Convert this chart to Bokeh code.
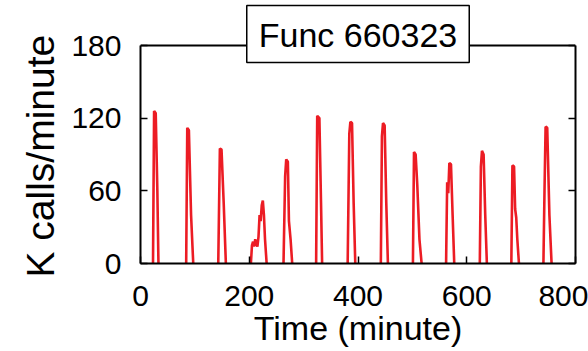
from bokeh.plotting import figure
from bokeh.models import LinearAxis, Label, FixedTicker, Range1d, Span, Title
from bokeh.embed import file_html
from bokeh.resources import INLINE
import numpy as np

# ---- data (minute, K calls/minute); NaN separates the bursts ----
nan = float("nan")
minutes = [
    23, 25, 28, 31, 33, nan,
    84, 86, 89, 93, 97, nan,
    143, 146, 149, 153, 157, nan,
    203, 205, 207, 209, 211, 213, 215, 217, 219, 221, 223, 225, 227, 229, 232, nan,
    263, 266, 268, 271, 273, 276, 279, nan,
    323, 325, 329, 332, 334, nan,
    381, 384, 386, 389, 392, 395, nan,
    442, 444, 446, 449, 452, 455, nan,
    501, 503, 506, 509, 513, 517, nan,
    562, 564, 566, 568, 571, 574, 577, nan,
    624, 626, 628, 631, 634, 637, nan,
    682, 684, 687, 689, 691, 693, 696, nan,
    741, 743, 745, 748, 752, 756,
]
calls = [
    0, 126, 124, 60, 0, nan,
    0, 112, 110, 40, 0, nan,
    0, 95, 94, 50, 0, nan,
    0, 15, 18, 14, 20, 17, 14, 22, 40, 35, 48, 52, 40, 20, 0, nan,
    0, 72, 86, 84, 35, 20, 0, nan,
    0, 122, 120, 50, 0, nan,
    0, 107, 117, 116, 50, 0, nan,
    0, 105, 116, 114, 50, 0, nan,
    0, 92, 90, 65, 20, 0, nan,
    0, 67, 58, 83, 82, 40, 0, nan,
    0, 80, 93, 90, 40, 0, nan,
    0, 81, 80, 45, 38, 20, 0, nan,
    0, 60, 113, 112, 40, 0,
]
x_ticks = [0, 200, 400, 600, 800]
y_ticks = [0, 60, 120, 180]
y_max = 180
title_text = "Func 660323"

FONT = "Liberation Sans"

# frame extends above y_max so the title box (which straddles the top edge) is not clipped
p = figure(
    frame_width=435, frame_height=260,
    min_border_left=140, min_border_right=13, min_border_top=3, min_border_bottom=0,
    x_range=Range1d(0, 800), y_range=Range1d(0, 214.7),
    output_backend="svg", toolbar_location=None,
)
p.background_fill_color = "white"
p.border_fill_color = "white"
p.outline_line_color = None
p.grid.visible = False

p.line(np.array(minutes), np.array(calls), line_color="#ec1c24", line_width=2.6)

for ax in (p.xaxis[0], p.yaxis[0]):
    ax.axis_line_color = "black"
    ax.axis_line_width = 2
    ax.major_tick_in = 7
    ax.major_tick_out = 0
    ax.major_tick_line_width = 1.5
    ax.minor_tick_line_color = None
    ax.major_label_text_font = FONT
    ax.major_label_text_font_size = "30px"
    ax.major_label_text_color = "black"
    ax.axis_label_text_font = FONT
    ax.axis_label_text_font_style = "normal"
    ax.axis_label_text_color = "black"

p.xaxis[0].ticker = FixedTicker(ticks=x_ticks)
p.yaxis[0].ticker = FixedTicker(ticks=y_ticks)
p.yaxis[0].bounds = (0, y_max)
p.xaxis[0].axis_label = "Time (minute)"
p.xaxis[0].axis_label_text_font_size = "34px"
p.xaxis[0].major_label_standoff = 22
p.yaxis[0].major_label_standoff = 19
p.xaxis[0].axis_label_standoff = 0

# y label as a left-side title, anchored at the bottom of the frame
ylab = Title(text="K calls/minute", align="left", offset=-14,
             text_font=FONT, text_font_size="39px", text_font_style="normal",
             text_color="black", standoff=14)
p.add_layout(ylab, "left")

right = LinearAxis(ticker=FixedTicker(ticks=y_ticks), bounds=(0, y_max))
right.axis_line_color = "black"
right.axis_line_width = 2
right.major_tick_in = 7
right.major_tick_out = 0
right.major_tick_line_width = 1.5
right.minor_tick_line_color = None
right.major_label_text_font_size = "1px"
right.major_label_text_color = None
right.major_label_standoff = 0
p.add_layout(right, "right")

top_edge = Span(location=y_max, dimension="width", line_color="black", line_width=2)
p.add_layout(top_edge)

title = Label(
    x=400, y=189.5, text=title_text,
    text_align="center", text_baseline="middle",
    text_font=FONT, text_font_size="34px", text_color="black",
    border_line_color="black", border_line_width=1.5,
    background_fill_color="white",
    padding=dict(left=12, right=12, top=10, bottom=9),
)
p.add_layout(title)

open("out.html", "w").write(file_html(p, INLINE))
